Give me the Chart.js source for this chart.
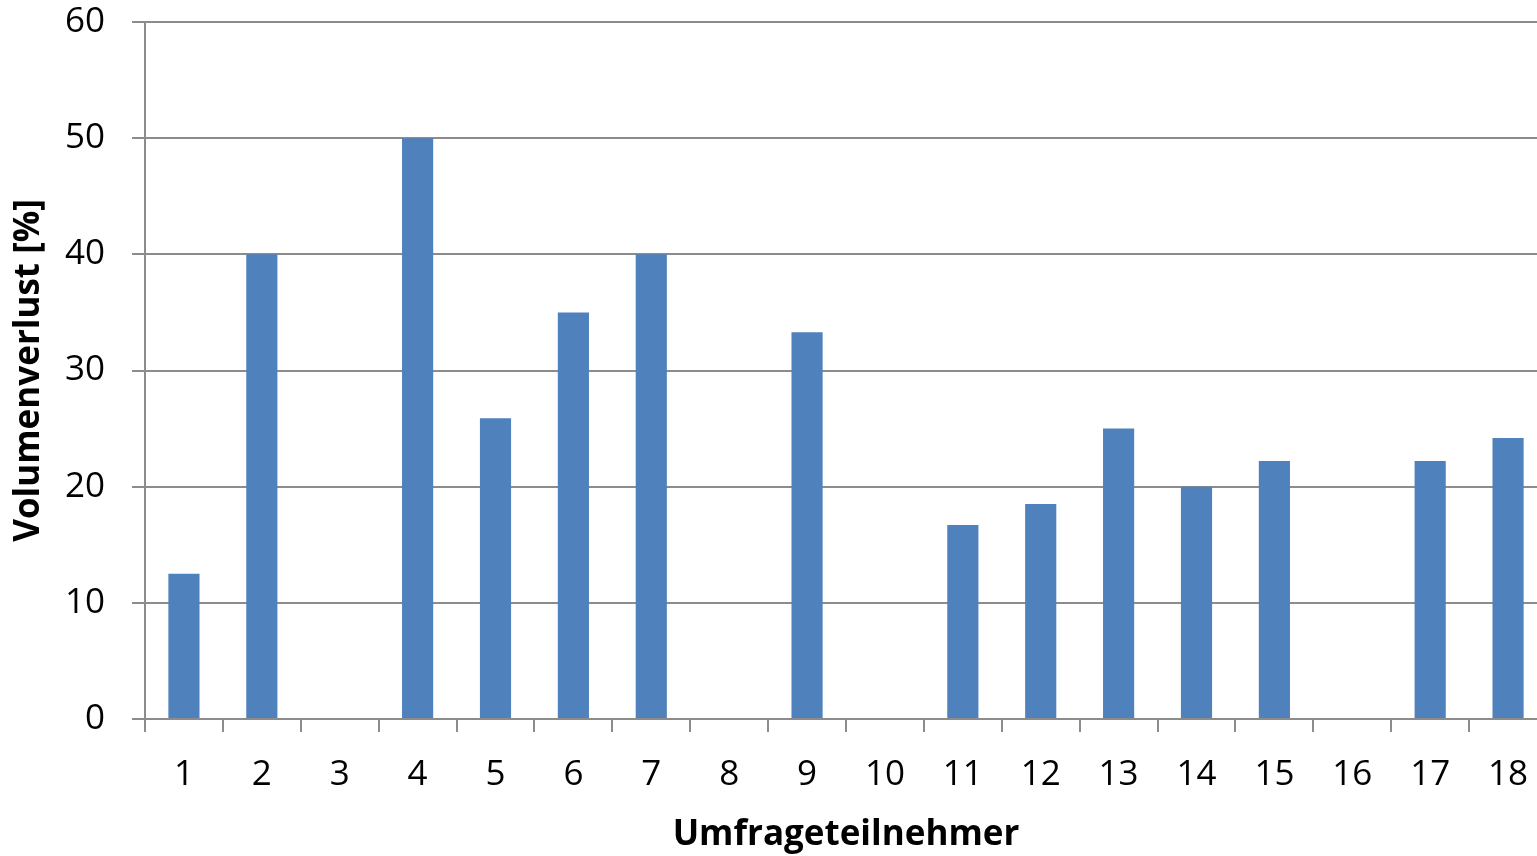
<!DOCTYPE html>
<html>
<head>
<meta charset="utf-8">
<script src="https://cdn.jsdelivr.net/npm/chart.js@4"></script>
<style>
  html, body { margin: 0; padding: 0; background: #fff; overflow: hidden; }
  #wrap { width: 1547px; height: 856px; }
</style>
</head>
<body>
<div id="wrap"><canvas id="volChart"></canvas></div>
<script>
const teilnehmer = ['1','2','3','4','5','6','7','8','9','10','11','12','13','14','15','16','17','18'];
const volumenverlust = [12.5, 40, 0, 50, 25.9, 35, 40, 0, 33.3, 0, 16.7, 18.5, 25, 20, 22.2, 0, 22.2, 24.2];
const yTicks = [0, 10, 20, 30, 40, 50, 60];

const gridGrey = '#8c8c8c';
const fontFam = '"Open Sans", Lato, sans-serif';

const ctx = document.getElementById('volChart').getContext('2d');
new Chart(ctx, {
  type: 'bar',
  data: {
    labels: teilnehmer,
    datasets: [{
      label: 'Volumenverlust',
      data: volumenverlust,
      backgroundColor: '#4f81bd',
      borderWidth: 0,
      categoryPercentage: 1,
      barPercentage: 0.4
    }]
  },
  options: {
    responsive: true,
    maintainAspectRatio: false,
    animation: false,
    devicePixelRatio: 1,
    layout: { padding: { top: 22, right: 0, left: 0, bottom: 0 } },
    plugins: { legend: { display: false }, tooltip: { enabled: false } },
    scales: {
      x: {
        grid: { offset: true, drawOnChartArea: false, color: gridGrey, lineWidth: 2, tickLength: 13 },
        border: { color: gridGrey, width: 2 },
        ticks: { color: '#000', font: { family: fontFam, size: 35 }, padding: 22, maxRotation: 0, autoSkip: false },
        title: { display: true, text: 'Umfrageteilnehmer', color: '#000',
                 font: { family: fontFam, size: 35, weight: 'bold' }, padding: { top: 0, bottom: 0 } },
        afterFit: (s) => { s.height = 137; s.paddingLeft = 0; s.paddingRight = 0; }
      },
      y: {
        min: 0, max: 60,
        afterBuildTicks: (s) => { s.ticks = yTicks.map(v => ({ value: v })); },
        grid: { color: gridGrey, lineWidth: 2, tickLength: 13 },
        border: { color: gridGrey, width: 2 },
        ticks: { color: '#000', font: { family: fontFam, size: 35 }, padding: 27 },
        title: { display: true, text: 'Volumenverlust [%]', color: '#000',
                 font: { family: fontFam, size: 35, weight: 'bold' }, padding: { top: 8, bottom: 0 } },
        afterFit: (s) => { s.width = 145; s.paddingTop = 0; s.paddingBottom = 0; }
      }
    }
  }
});
</script>
</body>
</html>
